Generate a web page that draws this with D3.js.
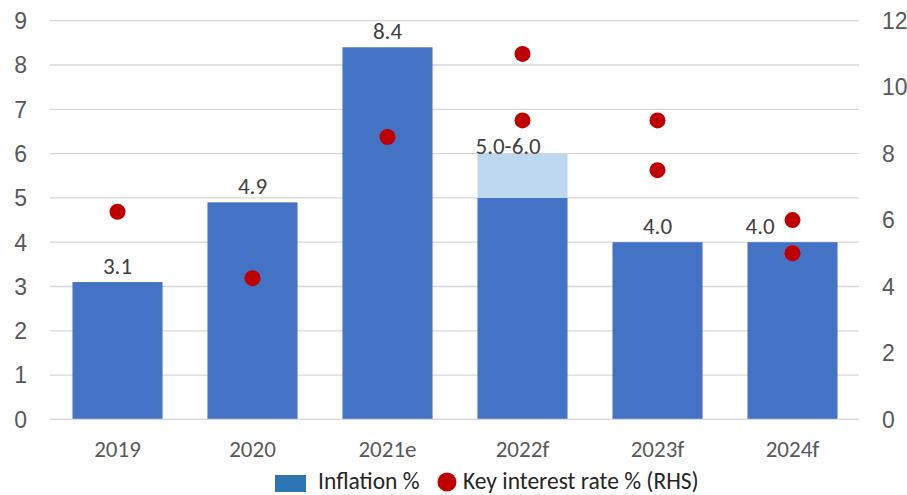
<!DOCTYPE html>
<html>
<head>
<meta charset="utf-8">
<script src="https://cdn.jsdelivr.net/npm/d3@7"></script>
<style>
  html, body { margin: 0; padding: 0; background: #fff; }
  svg { display: block; font-family: Carlito, "Open Sans", "Liberation Sans", sans-serif; }
</style>
</head>
<body>
<svg id="chart" width="907" height="495"></svg>
<script>
// Inflation (left axis) and key interest rate (right axis)
const years = ["2019", "2020", "2021e", "2022f", "2023f", "2024f"];
const inflationLow = [3.1, 4.9, 8.4, 5.0, 4.0, 4.0];
const inflationHigh = [null, null, null, 6.0, null, null];
const barLabels = ["3.1", "4.9", "8.4", "5.0-6.0", "4.0", "4.0"];
const rateA = [6.25, 4.25, 8.5, 11, 9, 6];
const rateB = [null, null, null, 9, 7.5, 5];
const leftTicks = [0, 1, 2, 3, 4, 5, 6, 7, 8, 9];
const rightTicks = [0, 2, 4, 6, 8, 10, 12];

const svg = d3.select("#chart");
const plotLeft = 50, plotRight = 859, plotTop = 20.7, plotBottom = 419.4;
const fontSize = 23;

const x = d3.scaleBand().domain(years).range([plotLeft, plotRight + 1]).paddingInner(0.333).paddingOuter(0.1665);
const yL = d3.scaleLinear().domain([0, 9]).range([plotBottom, plotTop]);
const yR = d3.scaleLinear().domain([0, 12]).range([plotBottom, plotTop]);

const textColor = "#595959";

// gridlines
svg.append("g").selectAll("line").data(leftTicks).join("line")
  .attr("x1", plotLeft).attr("x2", plotRight)
  .attr("y1", d => yL(d)).attr("y2", d => yL(d))
  .attr("stroke", "#d9d9d9").attr("stroke-width", 1.3);

// left axis labels
const axL = svg.append("g").attr("transform", "translate(27,0)")
  .call(d3.axisLeft(yL).tickValues(leftTicks).tickSize(0).tickPadding(0));
axL.select(".domain").remove();
axL.selectAll("text").attr("font-size", fontSize).attr("fill", textColor).attr("font-family", null).attr("dy", "0.34em");

// right axis labels
const axR = svg.append("g").attr("transform", "translate(882,0)")
  .call(d3.axisRight(yR).tickValues(rightTicks).tickSize(0).tickPadding(0));
axR.select(".domain").remove();
axR.selectAll("text").attr("font-size", fontSize).attr("fill", textColor).attr("font-family", null).attr("dy", "0.34em");

// bars
svg.append("g").selectAll("rect").data(years).join("rect")
  .attr("x", d => x(d)).attr("width", x.bandwidth())
  .attr("y", (d, i) => yL(inflationLow[i]))
  .attr("height", (d, i) => yL(0) - yL(inflationLow[i]))
  .attr("fill", "#4472C4");

// upper part of forecast range
svg.append("g").selectAll("rect").data(years.filter((d, i) => inflationHigh[i] != null)).join("rect")
  .attr("x", d => x(d)).attr("width", x.bandwidth())
  .attr("y", d => yL(inflationHigh[years.indexOf(d)]))
  .attr("height", d => { const i = years.indexOf(d); return yL(inflationLow[i]) - yL(inflationHigh[i]); })
  .attr("fill", "#BDD7EE");

// baseline
svg.append("line").attr("x1", plotLeft).attr("x2", plotRight).attr("y1", yL(0)).attr("y2", yL(0))
  .attr("stroke", "#d9d9d9").attr("stroke-width", 1.3);

// value labels; labels that would sit on a rate dot are pulled to the bar's left edge
const nearDot = (i) => [rateA[i], rateB[i]].some(v => v != null && Math.abs(yR(v) - yL(inflationHigh[i] != null ? inflationHigh[i] : inflationLow[i])) < 40);
svg.append("g").selectAll("text").data(years).join("text")
  .attr("x", (d, i) => nearDot(i) ? x(d) - 2 : x(d) + x.bandwidth() / 2)
  .attr("y", (d, i) => inflationHigh[i] != null ? yL(inflationHigh[i]) : yL(inflationLow[i]) - 8)
  .attr("text-anchor", (d, i) => nearDot(i) ? "start" : "middle")
  .attr("font-size", fontSize).attr("fill", "#404040")
  .text((d, i) => barLabels[i]);

// x labels
svg.append("g").selectAll("text").data(years).join("text")
  .attr("x", d => x(d) + x.bandwidth() / 2).attr("y", 457)
  .attr("text-anchor", "middle").attr("font-size", fontSize).attr("fill", textColor)
  .text(d => d);

// interest rate dots
const dots = [];
years.forEach((d, i) => {
  if (rateA[i] != null) dots.push({ year: d, v: rateA[i] });
  if (rateB[i] != null) dots.push({ year: d, v: rateB[i] });
});
svg.append("g").selectAll("circle").data(dots).join("circle")
  .attr("cx", d => x(d.year) + x.bandwidth() / 2)
  .attr("cy", d => yR(d.v))
  .attr("r", 8).attr("fill", "#C00000");

// legend
const lg = svg.append("g");
lg.append("rect").attr("x", 275).attr("y", 475).attr("width", 31).attr("height", 17).attr("fill", "#2E75B6");
lg.append("text").attr("x", 318).attr("y", 489).attr("font-size", 23.5).attr("fill", "#262626").text("Inflation %");
lg.append("circle").attr("cx", 447).attr("cy", 482).attr("r", 9.5).attr("fill", "#C00000");
lg.append("text").attr("x", 463).attr("y", 489).attr("font-size", 23.5).attr("fill", "#262626").text("Key interest rate % (RHS)");
</script>
</body>
</html>
